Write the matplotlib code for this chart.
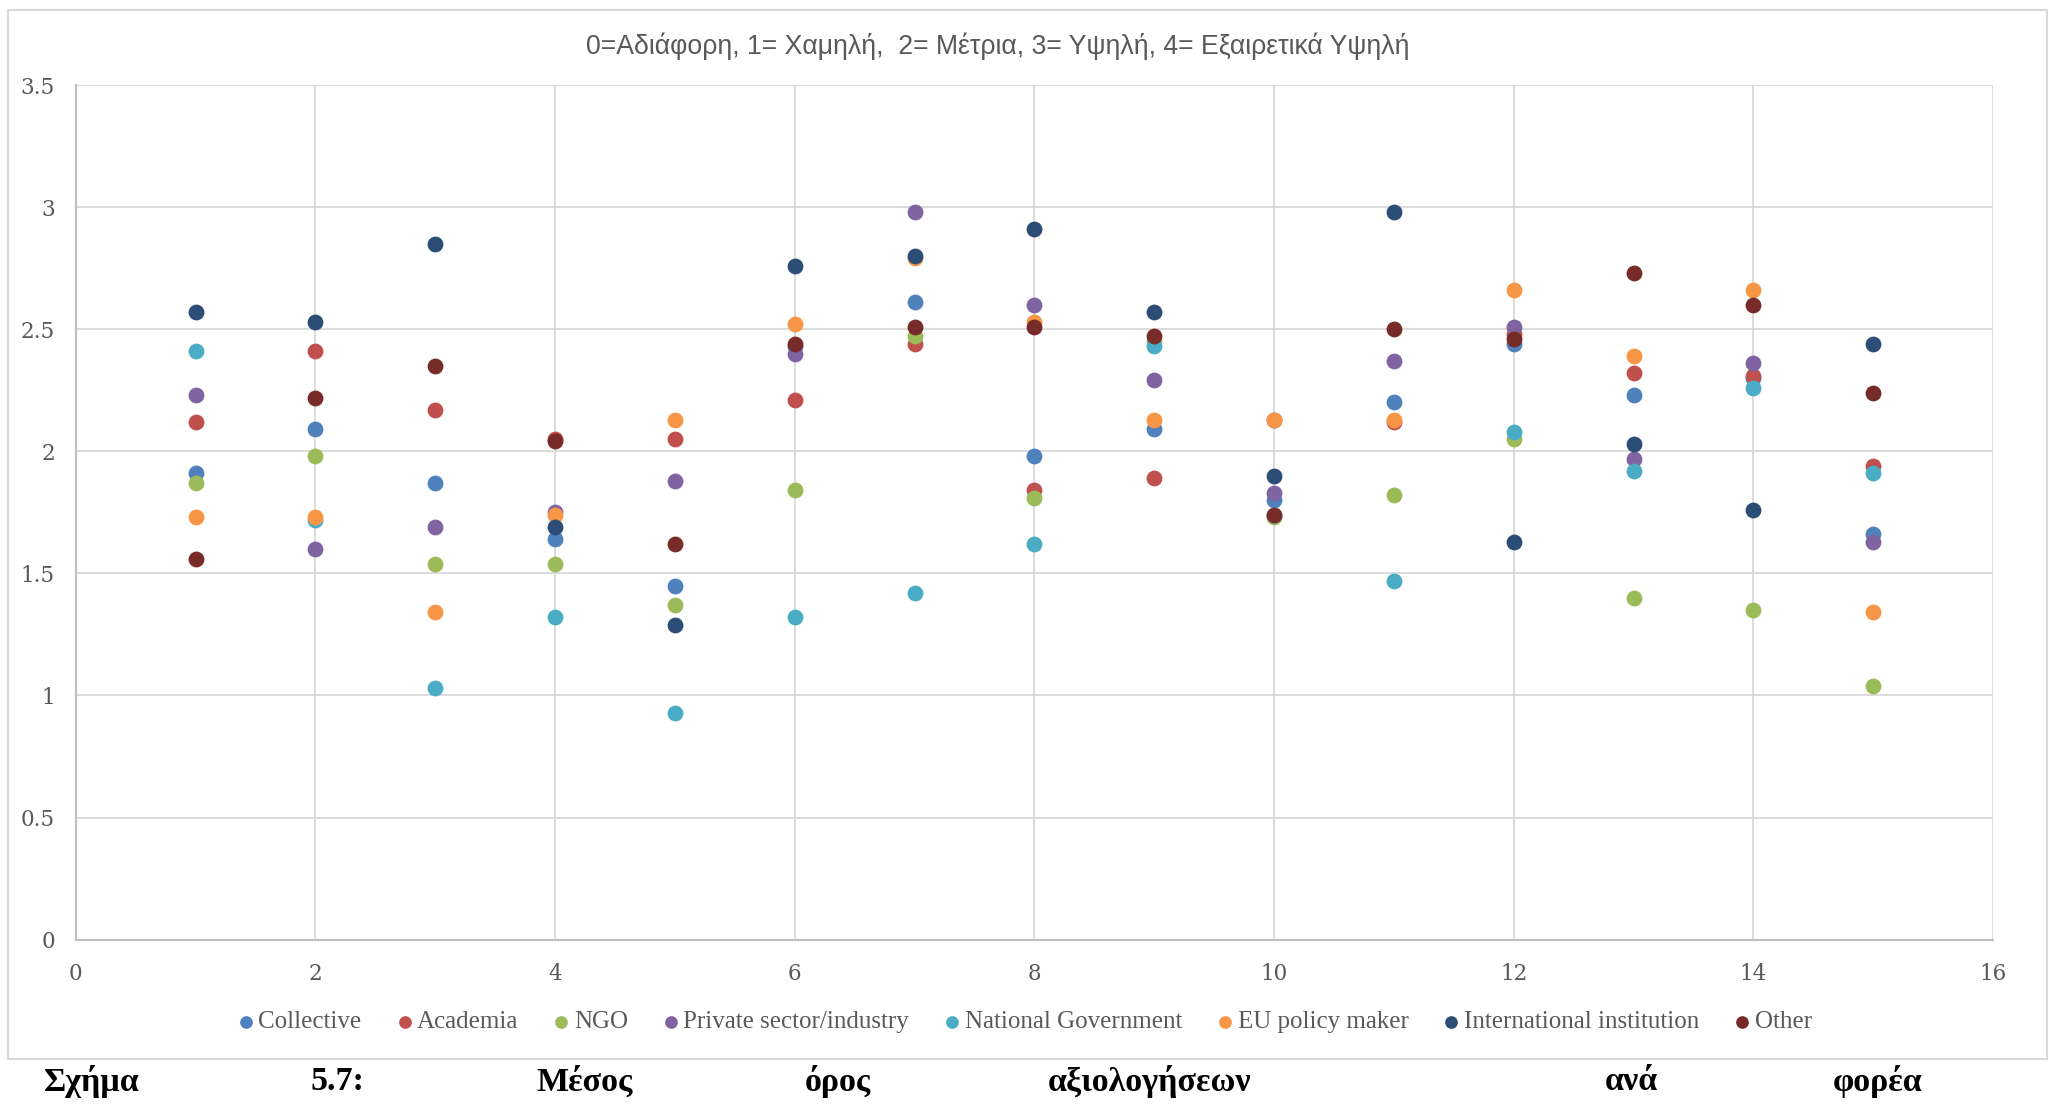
import numpy as np
import matplotlib
matplotlib.use("Agg")
import matplotlib.pyplot as plt
from matplotlib.patches import Rectangle

# average rating per item (x = 1..15), one list per stakeholder group
items = [1, 2, 3, 4, 5, 6, 7, 8, 9, 10, 11, 12, 13, 14, 15]

collective = [1.91, 2.09, 1.87, 1.64, 1.45, 2.43, 2.61, 1.98, 2.09, 1.80, 2.20, 2.44, 2.23, 2.30, 1.66]
academia = [2.12, 2.41, 2.17, 2.05, 2.05, 2.21, 2.44, 1.84, 1.89, 2.13, 2.12, 2.48, 2.32, 2.31, 1.94]
ngo = [1.87, 1.98, 1.54, 1.54, 1.37, 1.84, 2.47, 1.81, 2.45, 1.73, 1.82, 2.05, 1.40, 1.35, 1.04]
private = [2.23, 1.60, 1.69, 1.75, 1.88, 2.40, 2.98, 2.60, 2.29, 1.83, 2.37, 2.51, 1.97, 2.36, 1.63]
national_gov = [2.41, 1.72, 1.03, 1.32, 0.93, 1.32, 1.42, 1.62, 2.43, 1.74, 1.47, 2.08, 1.92, 2.26, 1.91]
eu_policy = [1.73, 1.73, 1.34, 1.74, 2.13, 2.52, 2.79, 2.53, 2.13, 2.13, 2.13, 2.66, 2.39, 2.66, 1.34]
international = [2.57, 2.53, 2.85, 1.69, 1.29, 2.76, 2.80, 2.91, 2.57, 1.90, 2.98, 1.63, 2.03, 1.76, 2.44]
other = [1.56, 2.22, 2.35, 2.04, 1.62, 2.44, 2.51, 2.51, 2.47, 1.74, 2.50, 2.46, 2.73, 2.60, 2.24]

series_names = ["Collective", "Academia", "NGO", "Private sector/industry",
                "National Government", "EU policy maker", "International institution", "Other"]
series_values = [collective, academia, ngo, private, national_gov, eu_policy, international, other]
colors = ["#4F81BD", "#C0504D", "#9BBB59", "#8064A2", "#4BACC6", "#F79646", "#2C4D75", "#772C2A"]

title = "0=Αδιάφορη, 1= Χαμηλή,  2= Μέτρια, 3= Υψηλή, 4= Εξαιρετικά Υψηλή"
caption_words = ["Σχήμα", "5.7:", "Μέσος", "όρος", "αξιολογήσεων", "ανά", "φορέα"]
caption_x = [44, 311, 536, 805, 1048, 1605, 1833]  # pixel positions of justified caption words

W, H = 2049, 1104
fig = plt.figure(figsize=(W / 100, H / 100), dpi=100)

# chart frame
fig.patches.append(Rectangle((8 / W, 1 - 1059 / H), (W - 10) / W, (1059 - 10) / H,
                             transform=fig.transFigure, fill=False, edgecolor="#D9D9D9", linewidth=1.5))

ax = fig.add_axes([75.8 / W, 1 - 939.6 / H, (1993 - 75.8) / W, (939.6 - 85) / H])
for name, vals, c in zip(series_names, series_values, colors):
    ax.scatter(items, vals, s=130, color=c, label=name, zorder=3, linewidths=0)

ax.set_xlim(0, 16)
ax.set_ylim(0, 3.5)
ax.set_xticks(np.arange(0, 17, 2))
ax.set_yticks(np.arange(0, 3.51, 0.5))
ax.set_yticklabels(["0", "0.5", "1", "1.5", "2", "2.5", "3", "3.5"])
ax.grid(True, color="#D9D9D9", linewidth=1.3, zorder=0)
ax.set_axisbelow(True)
for side in ["top", "right"]:
    ax.spines[side].set_visible(False)
for side in ["left", "bottom"]:
    ax.spines[side].set_color("#BFBFBF")
    ax.spines[side].set_linewidth(1.5)
ax.tick_params(length=0, labelsize=15.5, labelcolor="#595959")
ax.tick_params(axis="x", pad=17)
ax.tick_params(axis="y", pad=15)
for lab in ax.get_xticklabels() + ax.get_yticklabels():
    lab.set_family("DejaVu Serif")

fig.text(998 / W, 1 - 46 / H, title, ha="center", va="center", fontsize=19.2,
         color="#595959", family="Liberation Sans")

fig.legend(loc="center", bbox_to_anchor=(0.5, 1 - 1022 / H), ncol=8, frameon=False,
           prop={"family": "Liberation Serif", "size": 18}, labelcolor="#595959",
           handlelength=0.7, handletextpad=0.15, columnspacing=1.37, markerscale=0.8,
           borderaxespad=0)

for word, px in zip(caption_words, caption_x):
    fig.text(px / W, 1 - 1082 / H, word, ha="left", va="center", fontsize=24.5,
             fontweight="bold", family="Liberation Serif")

fig.savefig("out.png", dpi=100)
